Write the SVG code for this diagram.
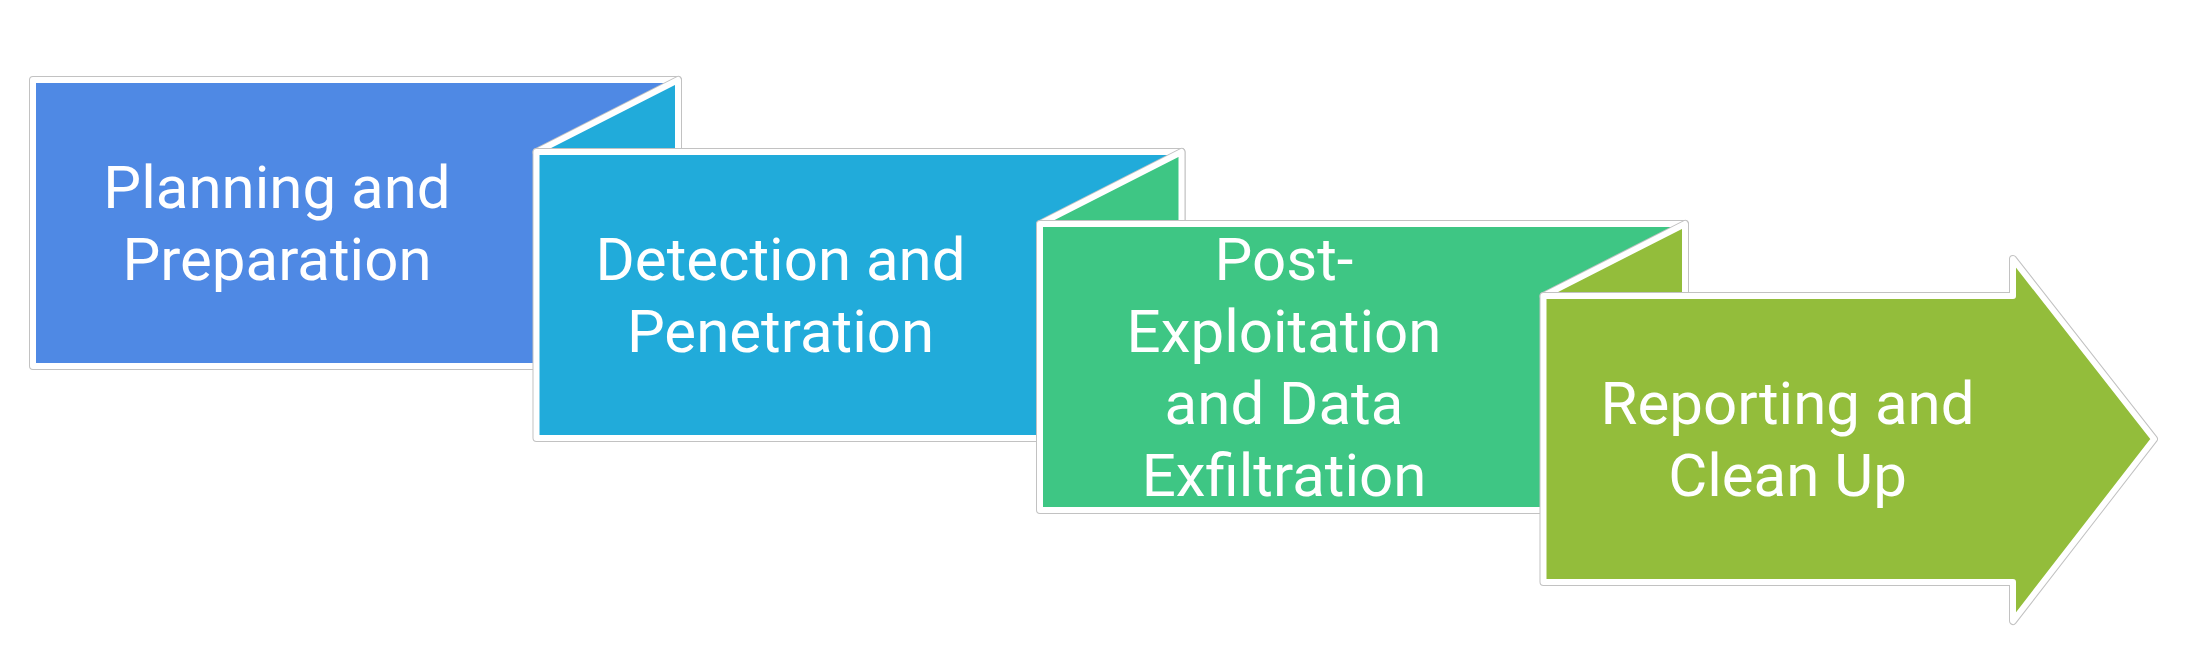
<svg xmlns="http://www.w3.org/2000/svg" width="2188" height="646" viewBox="0 0 2188 646">
  <style>
    .edge { fill: none; stroke: #c2c2c2; stroke-width: 8; stroke-linejoin: round; }
    .shape { stroke: #ffffff; stroke-width: 6; stroke-linejoin: round; }
    .label { font-family: Roboto, "Liberation Sans", sans-serif; font-size: 60px; fill: #ffffff; text-anchor: middle; }
    .c1 { fill: #4f89e4; }
    .c2 { fill: #21abda; }
    .c3 { fill: #3ec684; }
    .c4 { fill: #93bd3b; }
  </style>
  <rect x="0" y="0" width="2188" height="646" fill="#ffffff"/>

  <g id="stage1">
    <rect class="edge" x="33" y="80" width="645" height="286"/>
    <rect class="shape c1" x="33" y="80" width="645" height="286"/>
    <text class="label" x="277" y="208">Planning and</text>
    <text class="label" x="277" y="280">Preparation</text>
  </g>

  <g id="stage2">
    <path class="edge" d="M536.5,152 L678,80 L678,152 Z"/>
    <path class="shape c2" d="M536.5,152 L678,80 L678,152 Z"/>
    <rect class="edge" x="536.5" y="152" width="645" height="286"/>
    <rect class="shape c2" x="536.5" y="152" width="645" height="286"/>
    <text class="label" x="780.5" y="280">Detection and</text>
    <text class="label" x="780.5" y="352">Penetration</text>
  </g>

  <g id="stage3">
    <path class="edge" d="M1040,224 L1181.5,152 L1181.5,224 Z"/>
    <path class="shape c3" d="M1040,224 L1181.5,152 L1181.5,224 Z"/>
    <rect class="edge" x="1040" y="224" width="645" height="286"/>
    <rect class="shape c3" x="1040" y="224" width="645" height="286"/>
    <text class="label" x="1284" y="280">Post-</text>
    <text class="label" x="1284" y="352">Exploitation</text>
    <text class="label" x="1284" y="424">and Data</text>
    <text class="label" x="1284" y="496">Exfiltration</text>
  </g>

  <g id="stage4">
    <path class="edge" d="M1543.5,296 L1685,224 L1685,296 Z"/>
    <path class="shape c4" d="M1543.5,296 L1685,224 L1685,296 Z"/>
    <path class="edge" d="M1543.5,296 L2013,296 L2013,259 L2154,439 L2013,621 L2013,582 L1543.5,582 Z"/>
    <path class="shape c4" d="M1543.5,296 L2013,296 L2013,259 L2154,439 L2013,621 L2013,582 L1543.5,582 Z"/>
    <text class="label" x="1787.5" y="424">Reporting and</text>
    <text class="label" x="1787.5" y="496">Clean Up</text>
  </g>

  <g id="connectors"/>
</svg>
